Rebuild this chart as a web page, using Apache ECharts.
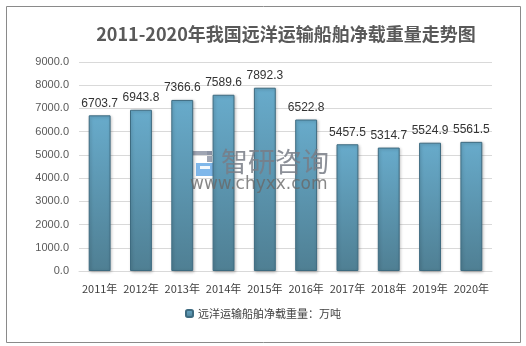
<!DOCTYPE html>
<html>
<head>
<meta charset="utf-8">
<script src="https://cdn.jsdelivr.net/npm/echarts@6/dist/echarts.min.js"></script>
<style>
  html, body { margin: 0; padding: 0; background: #fff; }
  #chart { width: 526px; height: 346px; }
</style>
</head>
<body>
<div id="chart"></div>
<script>
// Net tonnage of China's ocean-going fleet, 2011-2020 (10k tonnes)
const years = ['2011年', '2012年', '2013年', '2014年', '2015年', '2016年', '2017年', '2018年', '2019年', '2020年'];
const tonnage = [6703.7, 6943.8, 7366.6, 7589.6, 7892.3, 6522.8, 5457.5, 5314.7, 5524.9, 5561.5];
const seriesName = '远洋运输船舶净载重量：万吨';
const titleText = '2011-2020年我国远洋运输船舶净载重量走势图';

const chart = echarts.init(document.getElementById('chart'), null, { renderer: 'canvas' });

const cjk = '"Noto Sans CJK SC", "Microsoft YaHei", sans-serif';
const num = '"Liberation Sans", Arial, sans-serif';
const markGrey = 'rgba(135,142,160,0.8)';

chart.setOption({
  backgroundColor: '#ffffff',
  animation: false,
  title: {
    text: titleText,
    left: 281,
    textAlign: 'center',
    top: 20,
    textStyle: { fontFamily: cjk, fontSize: 18, fontWeight: 'bold', color: '#595959' }
  },
  grid: { left: 79, right: 34, top: 62, bottom: 75 },
  legend: {
    data: [seriesName],
    bottom: 22,
    left: 'center',
    itemWidth: 7,
    itemHeight: 7,
    itemGap: 4,
    textStyle: { fontFamily: cjk, fontSize: 11, color: '#404040' }
  },
  xAxis: {
    type: 'category',
    data: years,
    axisTick: { show: false },
    axisLine: { lineStyle: { color: '#d9d9d9' } },
    axisLabel: { fontFamily: cjk, fontSize: 11, color: '#404040', margin: 12, interval: 0 }
  },
  yAxis: {
    type: 'value',
    min: 0,
    max: 9000,
    interval: 1000,
    axisLine: { show: false },
    axisTick: { show: false },
    splitLine: { lineStyle: { color: '#d9d9d9' } },
    axisLabel: {
      fontFamily: num, fontSize: 11, color: '#595959', margin: 10,
      formatter: v => v.toFixed(1)
    }
  },
  series: [{
    name: seriesName,
    type: 'bar',
    data: tonnage,
    barWidth: '53%',
    itemStyle: {
      color: new echarts.graphic.LinearGradient(0, 0, 0, 1, [
        { offset: 0, color: '#68abcb' },
        { offset: 1, color: '#4f7f93' }
      ]),
      borderColor: '#3e6b80',
      borderWidth: 1,
      shadowColor: 'rgba(0,0,0,0.25)',
      shadowBlur: 3,
      shadowOffsetX: 1,
      shadowOffsetY: 1
    },
    label: {
      show: true,
      position: 'top',
      distance: 6,
      fontFamily: num,
      fontSize: 12,
      color: '#333333',
      formatter: p => p.value.toFixed(1)
    },
    z: 2
  }],
  graphic: [
    // chart frame
    {
      type: 'rect', left: 4, top: 4, z: 0, silent: true,
      shape: { width: 514, height: 336 },
      style: { fill: 'none', stroke: '#8a8a8a', lineWidth: 1 }
    },
    // brand mark
    {
      type: 'group', left: 188, top: 151, z: 10, silent: true,
      children: [
        { type: 'rect', shape: { x: 0, y: 0, width: 24, height: 5 }, style: { fill: markGrey } },
        { type: 'rect', shape: { x: 19, y: 0, width: 5, height: 11 }, style: { fill: markGrey } },
        { type: 'rect', shape: { x: 0, y: 8, width: 5, height: 17 }, style: { fill: markGrey } },
        { type: 'rect', shape: { x: 8, y: 12, width: 20, height: 13 }, style: { fill: 'rgba(105,170,230,0.85)' } },
        { type: 'rect', shape: { x: 12, y: 15, width: 10, height: 3 }, style: { fill: 'rgba(255,255,255,0.9)' } }
      ]
    },
    {
      type: 'text', left: 221, top: 148, z: 10, silent: true,
      style: { text: '智研咨询', font: '27px "Noto Sans CJK SC", sans-serif', fill: 'rgba(120,124,134,0.85)' }
    },
    {
      type: 'text', left: 190, top: 176, z: 10, silent: true,
      style: { text: 'www.chyxx.com', font: '17px "DejaVu Sans", sans-serif', fill: 'rgba(105,105,105,0.8)' }
    }
  ]
});
</script>
</body>
</html>
